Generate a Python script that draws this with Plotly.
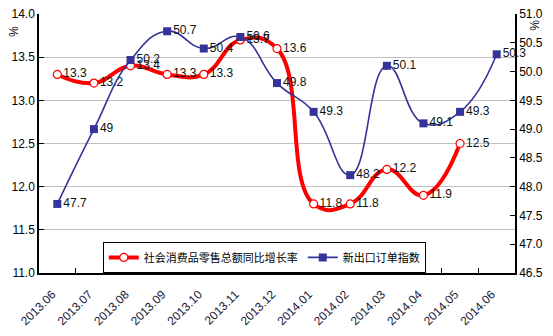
import plotly.graph_objects as go

months = ["2013.06", "2013.07", "2013.08", "2013.09", "2013.10", "2013.11", "2013.12",
          "2014.01", "2014.02", "2014.03", "2014.04", "2014.05", "2014.06"]
retail_growth = [13.3, 13.2, 13.4, 13.3, 13.3, 13.7, 13.6, 11.8, 11.8, 12.2, 11.9, 12.5]
export_orders = [47.7, 49.0, 50.2, 50.7, 50.4, 50.6, 49.8, 49.3, 48.2, 50.1, 49.1, 49.3, 50.3]

retail_name = "社会消费品零售总额同比增长率"
export_name = "新出口订单指数"

FONT = "Liberation Sans, Arial, Noto Sans CJK SC, sans-serif"
RED = "#FF0000"
NAVY = "#333399"

fig = go.Figure()

fig.add_trace(go.Scatter(
    x=months[:len(retail_growth)], y=retail_growth, name=retail_name,
    mode="lines+markers+text",
    line=dict(color=RED, width=4, shape="spline", smoothing=1.3),
    marker=dict(symbol="circle", size=8, color="white", line=dict(color=RED, width=1.2)),
    text=[f"{v:.1f}" for v in retail_growth], textposition="middle right",
    textfont=dict(family=FONT, size=12, color="#111111"),
    cliponaxis=False,
))

fig.add_trace(go.Scatter(
    x=months, y=export_orders, name=export_name, yaxis="y2",
    mode="lines+markers+text",
    line=dict(color=NAVY, width=1.6, shape="spline", smoothing=1.3),
    marker=dict(symbol="square", size=8, color=NAVY),
    text=[f"{v:g}" for v in export_orders], textposition="middle right",
    textfont=dict(family=FONT, size=12, color="#111111"),
    cliponaxis=False,
))

fig.update_layout(
    width=553, height=336,
    margin=dict(l=39, r=38, t=14, b=63),
    paper_bgcolor="white", plot_bgcolor="white",
    font=dict(family=FONT, size=12, color="black"),
    xaxis=dict(
        type="category", categoryorder="array", categoryarray=months,
        range=[-0.5, len(months) - 0.5], automargin=False,
        tickson="boundaries", ticks="inside", ticklen=5, tickcolor="black",
        showline=True, linecolor="black", linewidth=1.5, mirror=False,
        showgrid=False, tickangle=-45,
        ticklabelstandoff=8, ticklabelshift=-5,
        tickfont=dict(family=FONT, size=12, color="#1a1a3a"),
    ),
    yaxis=dict(
        range=[11.0, 14.0], dtick=0.5, tickformat=".1f", automargin=False,
        showgrid=True, gridcolor="#C0C0C0", gridwidth=1,
        showline=True, linecolor="black", linewidth=1.5,
        ticks="inside", ticklen=5, tickcolor="black",
        zeroline=False, tickfont=dict(family=FONT, size=12, color="black"),
    ),
    yaxis2=dict(
        range=[46.5, 51.0], dtick=0.5, tickformat=".1f", automargin=False,
        overlaying="y", side="right", showgrid=False,
        showline=True, linecolor="black", linewidth=1.5,
        ticks="inside", ticklen=5, tickcolor="black",
        zeroline=False, tickfont=dict(family=FONT, size=12, color="black"),
    ),
    legend=dict(
        orientation="h", x=0.134, y=0.12, xanchor="left", yanchor="top",
        bgcolor="white", bordercolor="black", borderwidth=1,
        font=dict(family=FONT, size=11, color="black"),
        itemwidth=30, tracegroupgap=0,
    ),
    showlegend=True,
    annotations=[
        dict(text="%", xref="paper", yref="paper", x=-0.055, y=0.93,
             xanchor="center", yanchor="middle",
             showarrow=False, textangle=90, font=dict(family=FONT, size=12)),
        dict(text="%", xref="paper", yref="paper", x=1.04, y=0.957,
             xanchor="center", yanchor="middle",
             showarrow=False, textangle=90, font=dict(family=FONT, size=12)),
    ],
)

fig.write_html("out.html")
